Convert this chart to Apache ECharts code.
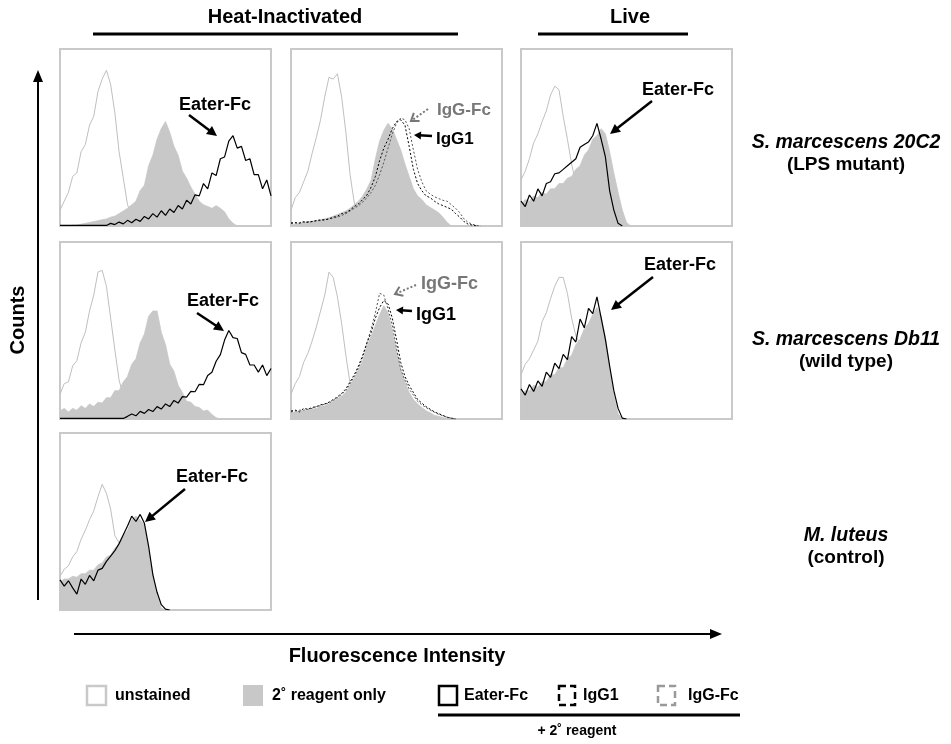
<!DOCTYPE html>
<html><head><meta charset="utf-8">
<script src="https://cdn.jsdelivr.net/npm/echarts@6/dist/echarts.min.js"></script>
<style>html,body{margin:0;padding:0;background:#fff}#c{width:951px;height:744px}</style>
</head><body><div id="c"></div><script>
// fluorescence bins (channel scale 0..100)
const binsX = [0,2,4,6,8,10,12,14,16,18,20,22,24,26,28,30,32,34,36,38,40,42,44,46,48,50,52,54,56,58,60,62,64,66,68,70,72,74,76,78,80,82,84,86,88,90,92,94,96,98,100];

// Row 1: S. marcescens 20C2 (LPS mutant)
const a1Unstained = [9,14,19,28,30,42,46,57,62,76,83,88,80,64,42,27,12,6,2,1,0];
const a1Reagent = [0,0,0,0.5,0.5,1,1.5,2,2.5,3,3.5,4,5,5.5,7,8.5,10,12,14,20,23,34,40,49,55,59,53,45,40,31,27,22,18,14,12,11,10,11.5,10,8,4,1.5,0];
const a1Eater = [0.3,0.3,0.3,0.3,0.3,0.3,0.3,0.3,0.3,0.3,0.3,0.3,1.5,0.8,2.2,1.2,3.2,1.8,3.8,2.6,5.4,4,7,5,8.6,6,9.6,7.6,11.6,9.6,14.6,12.4,17.6,17,24,21,30,28.5,38,39,48,51,44,45,37,38,29,29,21,26,17];

const a2Unstained = [9,16,19,25,31,41,50,60,73,84,83,86,73,53,29,13,6,2,0.5,0];
const a2Reagent = [1,1,1.5,2,2.5,2.8,3,3.5,4,4.7,5.5,6.5,7.5,8.5,10,12,14,17,21,26,38,48,54,58,55,49,43,35,28,21,17,15,12,10.5,9,7.5,5,2,0];
const a2IgG1 = [1.7,2,1.5,2.5,2,2.5,3,3.5,3.5,4,5,5.5,7,7.5,9,11,12.5,15,17.5,22,28,37,44,49,55,59,60,57,45,32,24,20,17,16,14,12.5,11.5,10.5,9.5,7,5,2.5,1,0.5,0];
const a2IgGFc = [1.5,1.5,2,2,2.5,2.5,3,3,3.5,4,4.5,5,6,7,8.5,10,11.5,13.5,16,19,23,29,36,44,52,58,61,60,55,43,32,25,20,18,16.5,15.5,14.5,14,12,10,7.5,4,2,1,0.3,0];

const a3Unstained = [26,31,38,47,52,59,65,74,79,77,62,49,35,24,21,18,15,12,10,7,5,3,1.5,0.5,0];
const a3Reagent = [12,15,14,17,16,19,18,21,21,24,24,27,28,32,34,40,43,49,51,55,52,42,30,19,9,2,0];
const a3Eater = [14,11,17.5,14,21,17,24,25,29.5,30,32,34,36,38,44.5,46,47.5,51,58,49,39,20,9,1.5,0];

// Row 2: S. marcescens Db11 (wild type)
const b1Unstained = [14,20,21,30,33,43,49,61,70,83,84,75,57,39,22,13,8,5,4,2.5,1.5,0.5,0];
const b1Reagent = [4.5,6,4,6,5,7.5,6,8.5,7,9.5,9,12,12,16,16,21,24,31,34,43,48,58,61,61,49,42,31,27,19,15,10,9.5,7,6.5,4.5,5,2.5,0.7,0];
const b1Eater = [0.3,0.3,0.3,0.3,0.3,0.3,0.3,0.3,0.3,0.3,0.3,0.3,0.3,0.3,0.3,0.3,1.5,2.8,1.8,4.3,3.2,5.4,4.2,7,5.6,8.5,7,10.5,9,12.6,12.4,15.6,15.4,19.6,19.4,24.6,26.4,32.6,36.4,44.6,50,46,45.5,37.5,36.5,30.5,30.5,26.5,30.5,24.5,28.5];

const b2Unstained = [14,20,24,32,37,44,52,61,70,83,80,69,54,36,20,13,10,7,4,2,1,0];
const b2Reagent = [3.5,4,4.5,4.5,5,5.5,6,7,7.5,8.5,10,11.5,13,15,19,23,28,33,41,47,53,59,64,60,50,39,28,21,15,11,8.5,6.5,4.7,3.5,2,1.5,0.8,0.3,0];
const b2IgG1 = [4.5,5,4,6,5.5,6.5,7,8,8.5,9.5,11,12.5,14.5,17,21,25,30,36,43,49,57,63,67,65,57,45,32,24,19,15,11,9,7,5.5,4,3,2,1,0.5,0];
const b2IgGFc = [4,4.5,5,5,5.5,6,7,7.5,8.5,9,10.5,12,14,16,20,24,29,35,43,51,60,71,70,62,53,40,28,22,17,13.5,10,8,6.5,5,3.8,2.7,1.8,1,0.5,0];

const b3Unstained = [25,31,34,39,44,55,60,68,75,80,80,71,57,47,42,38,35,32,28,24,19,13,7,2,0.5,0];
const b3Reagent = [14,16,16,19,18,21,21,25,25,29,29,34,36,42,45,51,54,59,63,58,46,29,13,3,0];
const b3Eater = [17,13.5,19.5,15.5,21.5,18.5,26.5,23.5,31.5,28.5,36.5,33.5,46.5,43.5,56.5,51.5,62.5,59.5,69,57,45,30,16,6,0.5,0];

// Row 3: M. luteus (control)
const c1Unstained = [19,23,25,30,33,40,45,51,56,64,71,66,57,42,38,34,30,26,22,18,14,9,5,1,0];
const c1Reagent = [16,17.5,17.5,19,18.5,20.5,20.5,22.5,22.5,25.5,26.5,30,31,35,37,42,45,51,53,51,48,35,20,8,1,0];
const c1Eater = [17,13.5,16.5,12.5,9,17.5,14.5,19.5,16.5,22.5,23.5,27.5,30.5,33.5,37.5,42.5,47.5,53,50,54,49,36,20,10,3,0.5,0];

const columnTitles = ['Heat-Inactivated','Live'];
const rowLabels = [['S. marcescens 20C2','(LPS mutant)'],['S. marcescens Db11','(wild type)'],['M. luteus','(control)']];
const legendNames = ['unstained','2˚ reagent only','Eater-Fc','IgG1','IgG-Fc'];

const panels = [
  {unst:a1Unstained, reag:a1Reagent, eater:a1Eater},
  {unst:a2Unstained, reag:a2Reagent, igg1:a2IgG1, iggfc:a2IgGFc},
  {unst:a3Unstained, reag:a3Reagent, eater:a3Eater},
  {unst:b1Unstained, reag:b1Reagent, eater:b1Eater},
  {unst:b2Unstained, reag:b2Reagent, igg1:b2IgG1, iggfc:b2IgGFc},
  {unst:b3Unstained, reag:b3Reagent, eater:b3Eater},
  {unst:c1Unstained, reag:c1Reagent, eater:c1Eater}
];
const layout = [[60,49],[291,49],[521,49],[60,242],[291,242],[521,242],[60,433]];
const PW = 211, PH = 177;
const FONT = '"Liberation Sans", Arial, Helvetica, sans-serif';

function pts(arr){ return arr.map((v,i)=>[binsX[i], v]); }

const grids=[], xAxes=[], yAxes=[], series=[];
panels.forEach((p,i)=>{
  grids.push({left:layout[i][0], top:layout[i][1], width:PW, height:PH, show:true,
    borderColor:'#c9c9c9', borderWidth:2, backgroundColor:'#fff'});
  xAxes.push({type:'value', gridIndex:i, min:0, max:100, show:false});
  yAxes.push({type:'value', gridIndex:i, min:0, max:100, show:false});
  const base = {type:'line', xAxisIndex:i, yAxisIndex:i, symbol:'none', animation:false, silent:true};
  series.push(Object.assign({}, base, {name:'unstained', data:pts(p.unst), z:1,
    lineStyle:{color:'#bfbfbf', width:1}}));
  series.push(Object.assign({}, base, {name:'2˚ reagent only', data:pts(p.reag), z:2,
    lineStyle:{color:'#c8c8c8', width:0.8}, areaStyle:{color:'#c8c8c8', opacity:1}}));
  if (p.iggfc) series.push(Object.assign({}, base, {name:'IgG-Fc', data:pts(p.iggfc), z:3,
    lineStyle:{color:'#555', width:1, type:[2,2]}}));
  if (p.igg1) series.push(Object.assign({}, base, {name:'IgG1', data:pts(p.igg1), z:4,
    lineStyle:{color:'#000', width:1, type:[2,2]}}));
  if (p.eater) series.push(Object.assign({}, base, {name:'Eater-Fc', data:pts(p.eater), z:5,
    lineStyle:{color:'#000', width:1.2}}));
});

const G = [];
function txt(t,x,y,size,opt){
  opt = opt||{};
  G.push({type:'text', x:x, y:y, rotation:opt.rot||0, z:100, style:{text:t, fill:opt.fill||'#000',
    font:(opt.style||'')+' bold '+size+'px '+FONT, align:opt.align||'center', verticalAlign:'middle'}});
}
function ln(x1,y1,x2,y2,w,color,dash){
  G.push({type:'line', z:100, shape:{x1,y1,x2,y2}, style:{stroke:color||'#000', lineWidth:w, lineDash:dash||null}});
}
function arrow(x1,y1,x2,y2,opt){
  opt = opt||{};
  const len = opt.len||10, w = opt.w||5, color = opt.color||'#000';
  const a = Math.atan2(y2-y1, x2-x1);
  const bx = x2-len*Math.cos(a), by = y2-len*Math.sin(a);
  const px = -Math.sin(a)*w, py = Math.cos(a)*w;
  if (opt.open){
    ln(x1,y1,x2,y2,opt.lw||2,color,opt.dash);
    G.push({type:'polyline', z:100, shape:{points:[[bx+px,by+py],[x2,y2],[bx-px,by-py]]}, style:{stroke:color, lineWidth:2, fill:null}});
  } else {
    ln(x1,y1,bx+Math.cos(a)*2,by+Math.sin(a)*2,opt.lw||2.5,color,opt.dash);
    G.push({type:'polygon', z:100, shape:{points:[[x2,y2],[bx+px,by+py],[bx-px,by-py]]}, style:{fill:color}});
  }
}

// column titles
txt(columnTitles[0], 285, 17, 20);
ln(93, 34, 458, 34, 3);
txt(columnTitles[1], 630, 17, 20);
ln(538, 34, 688, 34, 3);

// axes arrows
arrow(38, 600, 38, 70, {len:12, w:5, lw:2});
txt('Counts', 18, 320, 20, {rot:Math.PI/2});
arrow(74, 634, 722, 634, {len:12, w:5, lw:2});
txt('Fluorescence Intensity', 397, 656, 20);

// row labels
const rowY = [143, 340, 536];
rowLabels.forEach((r,i)=>{
  txt(r[0], 846, rowY[i], 19.5, {style:'italic'});
  txt(r[1], 846, rowY[i]+22, 19);
});

// panel annotations
txt('Eater-Fc', 215, 105, 18);
arrow(189, 115, 217, 136);
txt('IgG-Fc', 437, 110, 17, {align:'left', fill:'#777'});
arrow(428, 109, 411, 121, {open:true, color:'#777', dash:[2,2], len:7, w:5});
txt('IgG1', 436, 139, 17, {align:'left'});
arrow(432, 136, 414, 135, {len:7, w:4, lw:2.5});
txt('Eater-Fc', 678, 90, 18);
arrow(652, 101, 610, 134);

txt('Eater-Fc', 223, 301, 18);
arrow(197, 313, 224, 331);
txt('IgG-Fc', 421, 284, 18, {align:'left', fill:'#777'});
arrow(416, 285, 395, 294, {open:true, color:'#777', dash:[2,2], len:7, w:5});
txt('IgG1', 416, 315, 18, {align:'left'});
arrow(412, 311, 396, 310, {len:7, w:4, lw:2.5});
txt('Eater-Fc', 680, 265, 18);
arrow(653, 277, 611, 310);

txt('Eater-Fc', 212, 477, 18);
arrow(185, 489, 145, 522);

// legend
G.push({type:'rect', z:100, shape:{x:87, y:686, width:19, height:19}, style:{fill:'#fff', stroke:'#c9c9c9', lineWidth:2.5}});
txt(legendNames[0], 115, 696, 16, {align:'left'});
G.push({type:'rect', z:100, shape:{x:243, y:685, width:20, height:21}, style:{fill:'#c8c8c8'}});
txt(legendNames[1], 272, 696, 16, {align:'left'});
G.push({type:'rect', z:100, shape:{x:439, y:686, width:18, height:19}, style:{fill:'#fff', stroke:'#000', lineWidth:2.5}});
txt(legendNames[2], 464, 696, 16, {align:'left'});
G.push({type:'rect', z:100, shape:{x:559, y:686, width:16, height:19}, style:{fill:'#fff', stroke:'#000', lineWidth:2.5, lineDash:[7,4]}});
txt(legendNames[3], 583, 696, 16, {align:'left'});
G.push({type:'rect', z:100, shape:{x:658, y:686, width:17, height:19}, style:{fill:'#fff', stroke:'#999', lineWidth:2.5, lineDash:[7,4]}});
txt(legendNames[4], 688, 696, 16, {align:'left'});
ln(438, 715, 740, 715, 3);
txt('+ 2˚ reagent', 577, 731, 14);

const chart = echarts.init(document.getElementById('c'), null, {renderer:'canvas'});
chart.setOption({
  animation:false,
  backgroundColor:'#fff',
  grid:grids, xAxis:xAxes, yAxis:yAxes, series:series,
  graphic:{elements:G}
});
</script></body></html>
